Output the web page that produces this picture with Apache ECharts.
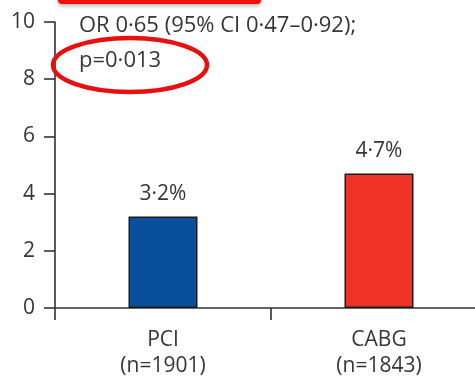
<!DOCTYPE html>
<html>
<head>
<meta charset="utf-8">
<script src="https://cdn.jsdelivr.net/npm/echarts@6/dist/echarts.min.js"></script>
<style>
  html, body { margin: 0; padding: 0; background: #fff; }
  #chart { width: 475px; height: 379px; }
</style>
</head>
<body>
<div id="chart"></div>
<script>
// Groups and event rates (%)
const groups = ['PCI', 'CABG'];
const groupSizes = ['(n=1901)', '(n=1843)'];
const rates = [3.2, 4.7];
const rateLabels = ['3·2%', '4·7%'];
const barColors = ['#0a4f9c', '#ee3326'];
const yTicks = [0, 2, 4, 6, 8, 10];
const statLines = ['OR 0·65 (95% CI 0·47–0·92);', 'p=0·013'];

const FONT = '"Open Sans", sans-serif';
const INK = '#363636';

const chart = echarts.init(document.getElementById('chart'), null, { renderer: 'canvas' });

chart.setOption({
  animation: false,
  grid: {
    left: 55, width: 432, top: 22, bottom: 71,
    containLabel: false,
    outerBoundsMode: 'none'
  },
  xAxis: {
    type: 'category',
    data: groups,
    boundaryGap: true,
    axisLine: { lineStyle: { color: '#333', width: 1.6 } },
    axisTick: { show: true, length: 12, inside: false, lineStyle: { color: '#333', width: 1.6 } },
    axisLabel: {
      margin: 19,
      fontFamily: FONT,
      fontSize: 21,
      lineHeight: 26,
      color: INK,
      formatter: (v, i) => v + '\n' + groupSizes[i]
    }
  },
  yAxis: {
    type: 'value',
    min: yTicks[0],
    max: yTicks[yTicks.length - 1],
    interval: 2,
    splitLine: { show: false },
    axisLine: { show: true, lineStyle: { color: '#333', width: 1.6 } },
    axisTick: { show: true, length: 11, lineStyle: { color: '#333', width: 1.6 } },
    axisLabel: { margin: 20, fontFamily: FONT, fontSize: 21, color: INK }
  },
  series: [{
    type: 'bar',
    barWidth: 69,
    data: rates.map((v, i) => ({
      value: v,
      itemStyle: { color: barColors[i], borderColor: '#1a1a1a', borderWidth: 1.5 },
      label: { formatter: rateLabels[i] }
    })),
    label: {
      show: true,
      position: 'top',
      distance: 12,
      fontFamily: FONT,
      fontSize: 21,
      color: INK
    }
  }],
  graphic: [
    {
      type: 'rect',
      shape: { x: 58, y: -12, width: 203, height: 16, r: 4 },
      style: { fill: '#f20c0c', shadowBlur: 4, shadowColor: 'rgba(0,0,0,0.35)', shadowOffsetY: 1.5 },
      z: 10
    },
    {
      type: 'text',
      left: 79, top: 15,
      style: { text: statLines[0], font: '22px ' + FONT, fill: INK },
      z: 11
    },
    {
      type: 'text',
      left: 79, top: 50,
      style: { text: statLines[1], font: '22px ' + FONT, fill: INK },
      z: 11
    },
    {
      type: 'ellipse',
      shape: { cx: 130, cy: 65, rx: 77, ry: 27 },
      style: { fill: 'none', stroke: '#e8100f', lineWidth: 4.5 },
      z: 12
    }
  ]
});
</script>
</body>
</html>
